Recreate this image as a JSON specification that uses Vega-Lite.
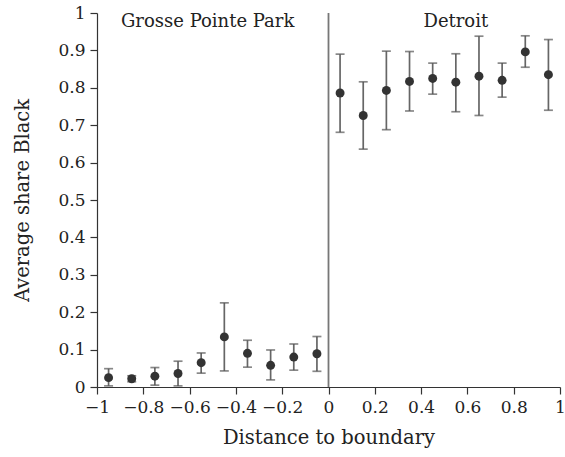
{
  "$schema": "https://vega.github.io/schema/vega-lite/v6.json",
  "autosize": "none",
  "width": 463,
  "height": 374,
  "padding": {"left": 97, "top": 13, "right": 5, "bottom": 70},
  "background": "white",
  "config": {
    "view": {"stroke": null},
    "font": "DejaVu Serif",
    "axis": {
      "grid": false,
      "domainColor": "#333",
      "domainWidth": 1.2,
      "tickColor": "#333",
      "tickWidth": 1.2,
      "labelColor": "#222",
      "titleColor": "#222",
      "labelFont": "DejaVu Serif",
      "titleFont": "DejaVu Serif",
      "labelFontSize": 17,
      "titleFontSize": 19.5,
      "titleFontWeight": "normal",
      "tickSize": 7,
      "labelOverlap": false,
      "labelFlush": false,
      "format": "~g"
    }
  },
  "datasets": {
    "pts": [
      {"d": -0.95, "share": 0.025, "lo": 0.003, "hi": 0.049},
      {"d": -0.85, "share": 0.022, "lo": 0.014, "hi": 0.030},
      {"d": -0.75, "share": 0.029, "lo": 0.005, "hi": 0.052},
      {"d": -0.65, "share": 0.036, "lo": 0.003, "hi": 0.069},
      {"d": -0.55, "share": 0.065, "lo": 0.037, "hi": 0.091},
      {"d": -0.45, "share": 0.134, "lo": 0.043, "hi": 0.225},
      {"d": -0.35, "share": 0.090, "lo": 0.053, "hi": 0.125},
      {"d": -0.25, "share": 0.058, "lo": 0.019, "hi": 0.099},
      {"d": -0.15, "share": 0.080, "lo": 0.045, "hi": 0.115},
      {"d": -0.05, "share": 0.089, "lo": 0.042, "hi": 0.135},
      {"d": 0.05, "share": 0.786, "lo": 0.681, "hi": 0.890},
      {"d": 0.15, "share": 0.726, "lo": 0.636, "hi": 0.816},
      {"d": 0.25, "share": 0.793, "lo": 0.688, "hi": 0.898},
      {"d": 0.35, "share": 0.817, "lo": 0.738, "hi": 0.897},
      {"d": 0.45, "share": 0.825, "lo": 0.783, "hi": 0.866},
      {"d": 0.55, "share": 0.815, "lo": 0.736, "hi": 0.891},
      {"d": 0.65, "share": 0.831, "lo": 0.726, "hi": 0.938},
      {"d": 0.75, "share": 0.820, "lo": 0.775, "hi": 0.866},
      {"d": 0.85, "share": 0.896, "lo": 0.855, "hi": 0.939},
      {"d": 0.95, "share": 0.835, "lo": 0.740, "hi": 0.929}
    ],
    "labels": [
      {"d": -0.522, "share": 0.963, "name": "Grosse Pointe Park"},
      {"d": 0.55, "share": 0.963, "name": "Detroit"}
    ],
    "boundary": [{"d": 0, "y0": 0, "y1": 1}]
  },
  "layer": [
    {
      "data": {"name": "boundary"},
      "mark": {"type": "rule", "color": "#777", "strokeWidth": 1.8},
      "encoding": {
        "x": {"field": "d", "type": "quantitative", "scale": {"domain": [-1, 1]},
              "axis": {"values": [-1, -0.8, -0.6, -0.4, -0.2, 0, 0.2, 0.4, 0.6, 0.8, 1], "title": "Distance to boundary", "titlePadding": 13, "labelPadding": 5}},
        "y": {"field": "y0", "type": "quantitative", "scale": {"domain": [0, 1]},
              "axis": {"values": [0, 0.1, 0.2, 0.3, 0.4, 0.5, 0.6, 0.7, 0.8, 0.9, 1], "title": "Average share Black", "titlePadding": 25, "labelPadding": 5}},
        "y2": {"field": "y1"}
      }
    },
    {
      "data": {"name": "pts"},
      "mark": {"type": "rule", "color": "#666", "strokeWidth": 1.7},
      "encoding": {
        "x": {"field": "d", "type": "quantitative", "scale": {"domain": [-1, 1]},
              "axis": {"values": [-1, -0.8, -0.6, -0.4, -0.2, 0, 0.2, 0.4, 0.6, 0.8, 1], "title": "Distance to boundary", "titlePadding": 13, "labelPadding": 5}},
        "y": {"field": "lo", "type": "quantitative", "scale": {"domain": [0, 1]},
              "axis": {"values": [0, 0.1, 0.2, 0.3, 0.4, 0.5, 0.6, 0.7, 0.8, 0.9, 1], "title": "Average share Black", "titlePadding": 25, "labelPadding": 5}},
        "y2": {"field": "hi"}
      }
    },
    {
      "data": {"name": "pts"},
      "mark": {"type": "tick", "orient": "horizontal", "color": "#555", "size": 9, "thickness": 1.7},
      "encoding": {
        "x": {"field": "d", "type": "quantitative", "scale": {"domain": [-1, 1]},
              "axis": {"values": [-1, -0.8, -0.6, -0.4, -0.2, 0, 0.2, 0.4, 0.6, 0.8, 1], "title": "Distance to boundary", "titlePadding": 13, "labelPadding": 5}},
        "y": {"field": "lo", "type": "quantitative", "scale": {"domain": [0, 1]},
              "axis": {"values": [0, 0.1, 0.2, 0.3, 0.4, 0.5, 0.6, 0.7, 0.8, 0.9, 1], "title": "Average share Black", "titlePadding": 25, "labelPadding": 5}}
      }
    },
    {
      "data": {"name": "pts"},
      "mark": {"type": "tick", "orient": "horizontal", "color": "#555", "size": 9, "thickness": 1.7},
      "encoding": {
        "x": {"field": "d", "type": "quantitative", "scale": {"domain": [-1, 1]},
              "axis": {"values": [-1, -0.8, -0.6, -0.4, -0.2, 0, 0.2, 0.4, 0.6, 0.8, 1], "title": "Distance to boundary", "titlePadding": 13, "labelPadding": 5}},
        "y": {"field": "hi", "type": "quantitative", "scale": {"domain": [0, 1]},
              "axis": {"values": [0, 0.1, 0.2, 0.3, 0.4, 0.5, 0.6, 0.7, 0.8, 0.9, 1], "title": "Average share Black", "titlePadding": 25, "labelPadding": 5}}
      }
    },
    {
      "data": {"name": "pts"},
      "mark": {"type": "point", "filled": true, "color": "#333", "size": 80, "opacity": 1},
      "encoding": {
        "x": {"field": "d", "type": "quantitative", "scale": {"domain": [-1, 1]},
              "axis": {"values": [-1, -0.8, -0.6, -0.4, -0.2, 0, 0.2, 0.4, 0.6, 0.8, 1], "title": "Distance to boundary", "titlePadding": 13, "labelPadding": 5}},
        "y": {"field": "share", "type": "quantitative", "scale": {"domain": [0, 1]},
              "axis": {"values": [0, 0.1, 0.2, 0.3, 0.4, 0.5, 0.6, 0.7, 0.8, 0.9, 1], "title": "Average share Black", "titlePadding": 25, "labelPadding": 5}}
      }
    },
    {
      "data": {"name": "labels"},
      "mark": {"type": "text", "fontSize": 18, "color": "#222", "font": "DejaVu Serif", "align": "center", "baseline": "alphabetic"},
      "encoding": {
        "x": {"field": "d", "type": "quantitative", "scale": {"domain": [-1, 1]},
              "axis": {"values": [-1, -0.8, -0.6, -0.4, -0.2, 0, 0.2, 0.4, 0.6, 0.8, 1], "title": "Distance to boundary", "titlePadding": 13, "labelPadding": 5}},
        "y": {"field": "share", "type": "quantitative", "scale": {"domain": [0, 1]},
              "axis": {"values": [0, 0.1, 0.2, 0.3, 0.4, 0.5, 0.6, 0.7, 0.8, 0.9, 1], "title": "Average share Black", "titlePadding": 25, "labelPadding": 5}},
        "text": {"field": "name"}
      }
    }
  ]
}
